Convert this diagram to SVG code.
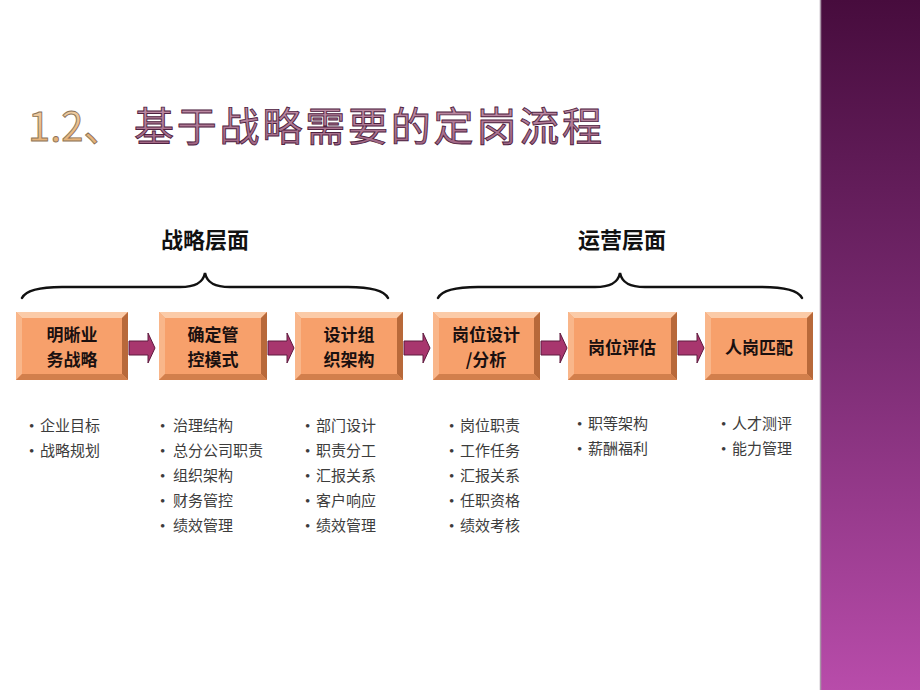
<svg xmlns="http://www.w3.org/2000/svg" width="920" height="690" viewBox="0 0 920 690">
<defs>
<linearGradient id="band" x1="0" y1="0" x2="0" y2="1">
<stop offset="0" stop-color="#470C3D"/>
<stop offset="0.5" stop-color="#7A2B72"/>
<stop offset="1" stop-color="#B84CAA"/>
</linearGradient>
<linearGradient id="tnum" x1="0" y1="0" x2="0" y2="1">
<stop offset="0" stop-color="#F3D8B4"/>
<stop offset="1" stop-color="#E2A868"/>
</linearGradient>
<linearGradient id="tcjk" x1="0" y1="0" x2="0" y2="1">
<stop offset="0" stop-color="#C89AB0"/>
<stop offset="1" stop-color="#9A5C7C"/>
</linearGradient>
<g id="arrow">
<path d="M0,-7 L19,-7 L19,-15 L26,0 L19,15 L19,7 L0,7 Z" fill="#A8366E" stroke="#5E1A3E" stroke-width="1"/>
</g>
</defs>
<style>
.face{fill:#F7A06B}
.bt{fill:#FBCBA8}
.bl{fill:#F9B68A}
.br{fill:#B8693A}
.bb{fill:#D27F4C}
.bx{font-family:"Noto Sans CJK SC","Noto Sans",sans-serif;font-weight:bold;font-size:17px;fill:#1A1010;text-anchor:middle}
.lab{font-family:"Noto Sans CJK SC","Noto Sans",sans-serif;font-weight:bold;font-size:22px;fill:#111;text-anchor:middle}
.li{font-family:"Liberation Serif","Noto Sans CJK SC",serif;font-size:15px;fill:#3C3C3C}
.brace{fill:none;stroke:#111;stroke-width:2.5;stroke-linecap:round}
</style>
<rect x="0" y="0" width="920" height="690" fill="#FFFFFF"/>
<rect x="820" y="0" width="100" height="690" fill="url(#band)"/>
<line x1="820.5" y1="0" x2="820.5" y2="690" stroke="#A896A6" stroke-width="1.5"/>

<g id="title">
<text x="28" y="141" font-family="Noto Sans CJK SC, Noto Sans, sans-serif" font-size="40" stroke-width="0.9"><tspan fill="url(#tnum)" stroke="#8C7358">1.2、</tspan><tspan x="134" fill="url(#tcjk)" stroke="#4E2240" letter-spacing="2.8">基于战略需要的定岗流程</tspan></text>
</g>

<g id="label-strategy"><text class="lab" x="205" y="248">战略层面</text></g>
<g id="label-operation"><text class="lab" x="622" y="248">运营层面</text></g>

<g id="braces">
<path class="brace" d="M22,298 C26,290 40,287 62,287 L180,287 C195,287 203,283 205,273 C207,283 215,287 230,287 L348,287 C370,287 384,290 388,298"/>
<path class="brace" d="M438,298 C442,290 456,287 478,287 L595,287 C610,287 618,283 620,273 C622,283 630,287 645,287 L762,287 C784,287 798,290 802,298"/>
</g>

<g id="node1">
<rect class="face" x="16" y="312" width="112" height="68"/>
<polygon class="bt" points="16,312 128,312 122,318 22,318"/>
<polygon class="bl" points="16,312 22,318 22,374 16,380"/>
<polygon class="br" points="128,312 128,380 122,374 122,318"/>
<polygon class="bb" points="16,380 128,380 122,374 22,374"/>
<text class="bx" x="72" y="341">明晰业</text>
<text class="bx" x="72" y="366">务战略</text>
</g>
<g id="node2">
<rect class="face" x="159" y="312" width="108" height="68"/>
<polygon class="bt" points="159,312 267,312 261,318 165,318"/>
<polygon class="bl" points="159,312 165,318 165,374 159,380"/>
<polygon class="br" points="267,312 267,380 261,374 261,318"/>
<polygon class="bb" points="159,380 267,380 261,374 165,374"/>
<text class="bx" x="213" y="341">确定管</text>
<text class="bx" x="213" y="366">控模式</text>
</g>
<g id="node3">
<rect class="face" x="295" y="312" width="108" height="68"/>
<polygon class="bt" points="295,312 403,312 397,318 301,318"/>
<polygon class="bl" points="295,312 301,318 301,374 295,380"/>
<polygon class="br" points="403,312 403,380 397,374 397,318"/>
<polygon class="bb" points="295,380 403,380 397,374 301,374"/>
<text class="bx" x="349" y="341">设计组</text>
<text class="bx" x="349" y="366">织架构</text>
</g>
<g id="node4">
<rect class="face" x="433" y="312" width="107" height="68"/>
<polygon class="bt" points="433,312 540,312 534,318 439,318"/>
<polygon class="bl" points="433,312 439,318 439,374 433,380"/>
<polygon class="br" points="540,312 540,380 534,374 534,318"/>
<polygon class="bb" points="433,380 540,380 534,374 439,374"/>
<text class="bx" x="486" y="341">岗位设计</text>
<text class="bx" x="486" y="366">/分析</text>
</g>
<g id="node5">
<rect class="face" x="568" y="312" width="109" height="68"/>
<polygon class="bt" points="568,312 677,312 671,318 574,318"/>
<polygon class="bl" points="568,312 574,318 574,374 568,380"/>
<polygon class="br" points="677,312 677,380 671,374 671,318"/>
<polygon class="bb" points="568,380 677,380 671,374 574,374"/>
<text class="bx" x="622" y="354">岗位评估</text>
</g>
<g id="node6">
<rect class="face" x="705" y="312" width="108" height="68"/>
<polygon class="bt" points="705,312 813,312 807,318 711,318"/>
<polygon class="bl" points="705,312 711,318 711,374 705,380"/>
<polygon class="br" points="813,312 813,380 807,374 807,318"/>
<polygon class="bb" points="705,380 813,380 807,374 711,374"/>
<text class="bx" x="759" y="354">人岗匹配</text>
</g>

<g id="connectors">
<use href="#arrow" transform="translate(129,348)"/>
<use href="#arrow" transform="translate(268,348)"/>
<use href="#arrow" transform="translate(404,348)"/>
<use href="#arrow" transform="translate(541,348)"/>
<use href="#arrow" transform="translate(678,348)"/>
</g>

<g id="list1" class="li">
<text x="29" y="431">•</text><text x="40" y="431">企业目标</text>
<text x="29" y="456">•</text><text x="40" y="456">战略规划</text>
</g>
<g id="list2" class="li">
<text x="160" y="431">•</text><text x="173" y="431">治理结构</text>
<text x="160" y="456">•</text><text x="173" y="456">总分公司职责</text>
<text x="160" y="481">•</text><text x="173" y="481">组织架构</text>
<text x="160" y="506">•</text><text x="173" y="506">财务管控</text>
<text x="160" y="531">•</text><text x="173" y="531">绩效管理</text>
</g>
<g id="list3" class="li">
<text x="305" y="431">•</text><text x="316" y="431">部门设计</text>
<text x="305" y="456">•</text><text x="316" y="456">职责分工</text>
<text x="305" y="481">•</text><text x="316" y="481">汇报关系</text>
<text x="305" y="506">•</text><text x="316" y="506">客户响应</text>
<text x="305" y="531">•</text><text x="316" y="531">绩效管理</text>
</g>
<g id="list4" class="li">
<text x="449" y="431">•</text><text x="460" y="431">岗位职责</text>
<text x="449" y="456">•</text><text x="460" y="456">工作任务</text>
<text x="449" y="481">•</text><text x="460" y="481">汇报关系</text>
<text x="449" y="506">•</text><text x="460" y="506">任职资格</text>
<text x="449" y="531">•</text><text x="460" y="531">绩效考核</text>
</g>
<g id="list5" class="li">
<text x="577" y="429">•</text><text x="588" y="429">职等架构</text>
<text x="577" y="454">•</text><text x="588" y="454">薪酬福利</text>
</g>
<g id="list6" class="li">
<text x="721" y="429">•</text><text x="732" y="429">人才测评</text>
<text x="721" y="454">•</text><text x="732" y="454">能力管理</text>
</g>
</svg>
